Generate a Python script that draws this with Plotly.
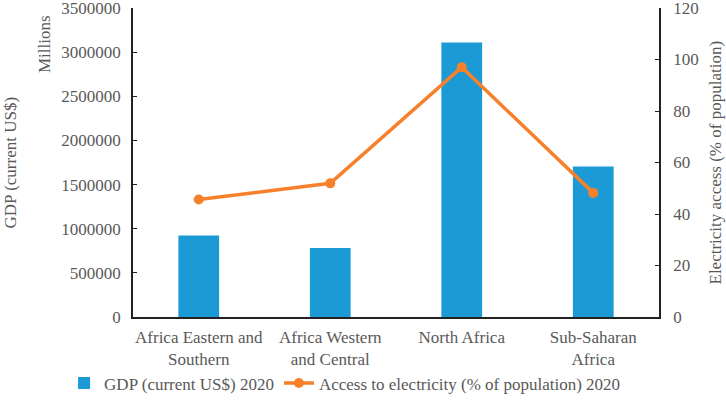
import plotly.graph_objects as go

# data
regions = ["Africa Eastern and<br>Southern", "Africa Western<br>and Central",
           "North Africa", "Sub-Saharan<br>Africa"]
gdp_millions = [923000, 782000, 3108000, 1706000]
elec_access = [45.6, 51.9, 97.0, 48.2]

bar_color = "#1b9ad6"
line_color = "#f7812a"
txt = "#595959"
font = "Liberation Serif, Times New Roman, serif"
fs = 17

fig = go.Figure()
fig.add_trace(go.Bar(
    x=regions, y=gdp_millions, name="GDP (current US$) 2020",
    marker=dict(color=bar_color, line=dict(width=0)), width=0.31,
))
fig.add_trace(go.Scatter(
    x=regions, y=elec_access, name="Access to electricity (% of population) 2020",
    mode="lines+markers", yaxis="y2",
    line=dict(color=line_color, width=3.5),
    marker=dict(color=line_color, size=10),
))

fig.update_layout(
    width=726, height=403,
    margin=dict(l=133, r=67, t=8, b=86, autoexpand=False),
    paper_bgcolor="white", plot_bgcolor="white",
    font=dict(family=font, size=fs, color=txt),
    showlegend=True,
    legend=dict(orientation="h", x=-0.131, xanchor="left",
                y=-0.215, yanchor="middle", bgcolor="rgba(0,0,0,0)",
                font=dict(size=fs, color=txt), itemwidth=30, tracegroupgap=0),
    xaxis=dict(showline=True, linecolor="#222", linewidth=1.5, ticks="",
               tickfont=dict(size=fs, color=txt), automargin=False,
               ticklabelstandoff=4),
    yaxis=dict(range=[0, 3500000], dtick=500000, tickformat="d",
               showgrid=False, zeroline=False, automargin=False,
               showline=True, linecolor="#222", linewidth=1.5,
               ticks="inside", ticklen=4, tickcolor="#222",
               ticklabelstandoff=7, ticklabeloverflow="allow"),
    yaxis2=dict(range=[0, 120], dtick=20, overlaying="y", side="right",
                showgrid=False, zeroline=False, automargin=False,
                showline=True, linecolor="#222", linewidth=1.5,
                ticks="inside", ticklen=4, tickcolor="#222",
                ticklabelstandoff=9, ticklabeloverflow="allow"),
    annotations=[
        dict(text="GDP (current US$)", textangle=-90, xref="paper", yref="paper",
             x=0, y=0.5, xshift=-123, xanchor="center", yanchor="middle",
             showarrow=False, font=dict(size=fs, color=txt)),
        dict(text="Millions", textangle=-90, xref="paper", yref="paper",
             x=0, y=1.0, xshift=-89, yshift=-5, xanchor="center", yanchor="top",
             showarrow=False, font=dict(size=fs, color=txt)),
        dict(text="Electricity access (% of population)", textangle=-90,
             xref="paper", yref="paper", x=1, y=0.5, xshift=56,
             xanchor="center", yanchor="middle",
             showarrow=False, font=dict(size=fs, color=txt)),
    ],
)

# drop the browser's default 8px body margin so the figure sits at 0,0
fig.write_html("out.html", config={"displayModeBar": False},
               post_script="document.body.style.margin='0';")
